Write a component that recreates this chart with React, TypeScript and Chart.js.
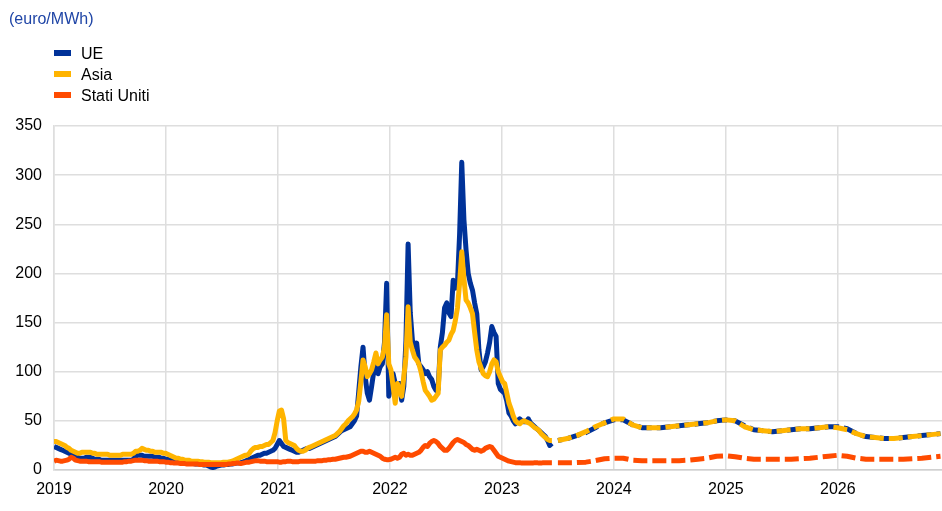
import React, { useEffect, useRef } from "react";
import { Chart, registerables } from "chart.js";

Chart.register(...registerables);

const FONT = 'Arial, "Liberation Sans", Helvetica, sans-serif';

// ---- Data ----
const seriesNames = ["UE", "Asia", "Stati Uniti"];
const seriesColors = ["#003299", "#ffb400", "#ff4b00"];
const yearTicks = [2019, 2020, 2021, 2022, 2023, 2024, 2025, 2026];
const yTicks = [0, 50, 100, 150, 200, 250, 300, 350];

// weekly observations, from first week of 2019 to mid-June 2023
const histStart = 2019;
const histWeeks = 233;

const euHist = [
  24, 23, 22, 21, 20, 19, 18, 17, 16, 15,
  14, 13, 12, 12, 12, 13, 13, 13, 12, 11,
  11, 11, 10, 10, 10, 10, 10, 10, 10, 10,
  10, 10, 10, 10, 10, 10, 10, 11, 14, 15,
  15, 15, 14, 14, 14, 14, 14, 13, 13, 13,
  12, 12, 11, 11, 10, 10, 9, 9, 8.5, 8.5,
  8, 8, 7, 7, 6.5, 6.5, 6, 6, 6, 5.5,
  5, 5, 4, 3, 2.5, 3, 4, 4.5, 5, 5,
  5.5, 5.5, 6, 6, 6.5, 7, 7, 7.5, 8, 9,
  10, 11, 12, 13, 14, 15, 15, 16, 17, 17,
  18, 19, 20, 22, 26, 30, 27, 24, 23, 22,
  21, 20, 19, 18, 18, 19, 20, 21, 22, 22,
  23, 24, 25, 26, 27, 28, 29, 30, 31, 32,
  33, 34, 36, 38, 40, 41, 42, 43, 44, 47,
  50, 55, 80, 105, 125, 95, 78, 71, 85, 100,
  112, 98, 105, 108, 130, 190, 75, 85, 98, 88,
  81, 88, 71, 85, 132, 230, 160, 132, 125, 129,
  108, 105, 102, 98, 100, 95, 92, 85, 81, 82,
  125, 140, 165, 170, 160, 156, 193, 185, 190, 240,
  313, 255, 224, 200, 190, 183, 170, 159, 122, 102,
  105, 110, 119, 130, 146, 140, 136, 88, 82, 80,
  78, 70, 58, 55, 50, 47, 50, 52, 50, 49,
  49, 52, 48, 46, 44, 42, 40, 38, 36, 34,
  30, 25, 27,
];

const asiaHist = [
  29, 29, 28, 27, 26, 25, 23, 22, 20, 19,
  18, 17, 17, 18, 18, 18, 18, 18, 17, 17,
  16, 16, 16, 16, 16, 16, 15, 15, 15, 15,
  15, 15, 16, 16, 16, 16, 16, 17, 19, 19,
  20, 22, 21, 20, 20, 19, 19, 18, 18, 18,
  18, 17, 17, 16, 15, 14, 13, 12, 12, 11,
  11, 10, 10, 10, 9, 9, 9, 9, 8.5, 8.5,
  8, 8, 8, 7.5, 7.5, 7.5, 7.5, 7.5, 7.5, 8,
  8, 8, 8.5, 9, 10, 11, 12, 13, 14, 15,
  15, 17, 20, 22, 23, 23, 24, 24, 25, 26,
  26, 28, 30, 38, 50, 60, 61, 52, 30, 28,
  27, 26, 25, 22, 20, 19, 19, 20, 22, 23,
  24, 25, 26, 27, 28, 29, 30, 31, 32, 33,
  34, 35, 37, 39, 42, 45, 47, 50, 52, 54,
  57, 61, 70, 90, 112, 105, 95, 98, 102, 110,
  119, 108, 112, 115, 125, 158, 108, 102, 85, 68,
  88, 80, 75, 95, 115, 166, 130, 122, 115, 112,
  108, 100, 90, 81, 78, 75, 71, 72, 75, 78,
  122, 125, 127, 130, 132, 138, 142, 152, 165, 190,
  222, 195, 173, 170, 165, 159, 140, 122, 110, 104,
  98, 96, 95, 100, 108, 112, 110, 100, 95, 90,
  88, 78, 68, 62, 55, 50, 48, 47, 49, 50,
  49, 48, 47, 45, 43, 42, 40, 37, 35, 33,
  31, 30, 30,
];

const usHist = [
  9, 10, 9.5, 9, 9, 9.5, 10, 11, 13, 12,
  10, 9.5, 9, 9, 9, 9, 8.5, 8.5, 8.5, 8.5,
  8.5, 8.5, 8, 8, 8, 8, 8, 8, 8, 8,
  8, 8, 8, 8.5, 8.5, 9, 9, 9.5, 10, 10,
  10, 10, 9.5, 9.5, 9, 9, 9, 9, 9, 8.5,
  8.5, 8.5, 8, 8, 7.5, 7.5, 7, 7, 7, 6.5,
  6.5, 6.5, 6, 6, 6, 6, 6, 6, 5.5, 5.5,
  5.5, 5.5, 5.5, 5.5, 5.5, 5.5, 5.5, 5.5, 5.5, 5.5,
  5.5, 6, 6, 6.5, 6.5, 7, 7, 6.5, 7, 7.5,
  8, 8, 8.5, 9, 9.5, 9.5, 9, 9, 9, 8.5,
  8.5, 8.5, 8.5, 8.5, 8.5, 8, 8, 8.5, 8.5, 9,
  9, 8.5, 8.5, 8.5, 8.5, 9, 9, 9, 9, 9,
  9, 9, 9, 9.5, 9.5, 9.5, 10, 10, 10.5, 10.5,
  11, 11, 11.5, 12, 12.5, 13, 13, 13.5, 14, 15,
  16, 17, 18, 19, 19, 18, 18, 19, 18, 17,
  16, 15, 14, 12, 11, 10.5, 10.5, 11, 12, 13,
  12, 13, 16, 17, 15, 16, 15, 15, 16, 17,
  18, 20, 23, 25, 24, 27, 29, 30, 29, 27,
  24, 22, 20, 20, 22, 25, 28, 30, 31, 30,
  29, 28, 26, 25, 23, 21, 20, 21, 20, 19,
  20, 22, 23, 24, 23, 20, 17, 14, 13, 12,
  11, 10, 9, 8.5, 8, 7.5, 7.5, 7.5, 7, 7,
  7, 7, 7, 7, 7.5, 7.5, 7, 7, 7.5, 7.5,
  7.5, 7.5, 7.5,
];

// monthly futures, July 2023 to December 2026
const futStart = 2023.5;
const euFut = [
  30, 32, 35, 38, 43, 48, 51, 51, 46, 43, 43, 43,
  44, 45, 46, 47, 48, 50, 51, 50, 45, 41, 40, 39,
  40, 41, 42, 42, 43, 44, 44, 42, 37, 34, 33, 32,
  32, 33, 34, 35, 36, 37,
];
const asiaFut = [
  30, 32, 35, 39, 44, 48, 52, 52, 46, 43, 43, 43,
  44, 45, 46, 47, 48, 50, 51, 50, 44, 41, 40, 39,
  40, 41, 42, 42, 43, 44, 43, 41, 37, 34, 33, 32,
  32, 33, 34, 35, 36, 37,
];
const usFut = [
  7.5, 7.5, 7.5, 8, 9.5, 11.5, 12, 12, 10, 9.5, 9.5, 9.5,
  9.5, 9.5, 10, 11, 12, 14, 14.5, 13.5, 12, 11, 11, 11,
  11, 11, 11.5, 12, 13, 14, 15, 14, 12, 11, 11, 11,
  11, 11, 11.5, 12, 13, 14,
];

const histDates = Array.from({ length: histWeeks }, (_, i) => histStart + (i * 7) / 365.25);
const futDates = euFut.map((_, i) => futStart + i / 12);

const toPts = (dates: number[], vals: number[]) => dates.map((x, i) => ({ x, y: vals[i] }));

export default function App() {
  const ref = useRef<HTMLCanvasElement | null>(null);

  useEffect(() => {
    if (!ref.current) return;
    const LW = 5;
    const dash = [14, 5];
    const chart = new Chart(ref.current, {
      type: "line",
      data: {
        datasets: [
          { label: "UE", data: toPts(histDates, euHist), borderColor: seriesColors[0], order: 5, borderWidth: LW },
          { label: "Asia", data: toPts(histDates, asiaHist), borderColor: seriesColors[1], order: 3, borderWidth: LW },
          { label: "Stati Uniti", data: toPts(histDates, usHist), borderColor: seriesColors[2], order: 1, borderWidth: LW },
          { label: "UE futures", data: toPts(futDates, euFut), borderColor: seriesColors[0], order: 4, borderWidth: LW, borderDash: dash, borderDashOffset: 9.5 },
          { label: "Asia futures", data: toPts(futDates, asiaFut), borderColor: seriesColors[1], order: 2, borderWidth: LW, borderDash: dash },
          { label: "Stati Uniti futures", data: toPts(futDates, usFut), borderColor: seriesColors[2], order: 0, borderWidth: LW, borderDash: dash },
        ].map((d) => ({ ...d, pointRadius: 0, fill: false, tension: 0, borderCapStyle: "butt" as const, borderJoinStyle: "round" as const })),
      },
      options: {
        animation: false,
        responsive: false,
        devicePixelRatio: 1,
        layout: { padding: { top: 126, right: 0, bottom: 0, left: 0 } },
        plugins: { legend: { display: false }, tooltip: { enabled: false }, title: { display: false } },
        scales: {
          x: {
            type: "linear",
            min: 2019,
            max: 2026.93,
            afterBuildTicks: (axis: any) => {
              axis.ticks = yearTicks.map((v) => ({ value: v }));
            },
            afterFit: (axis: any) => {
              axis.height = 41;
            },
            ticks: {
              autoSkip: false,
              maxRotation: 0,
              padding: 10,
              color: "#000",
              font: { family: FONT, size: 16 },
              callback: (v: any) => String(v),
            },
            grid: { color: "#dedede", lineWidth: 1.5, drawTicks: false },
            border: { display: true, color: "#d0d0d0", width: 1.5 },
          },
          y: {
            type: "linear",
            min: 0,
            max: 350,
            afterBuildTicks: (axis: any) => {
              axis.ticks = yTicks.map((v) => ({ value: v }));
            },
            afterFit: (axis: any) => {
              axis.width = 54;
            },
            ticks: {
              padding: 12,
              color: "#000",
              font: { family: FONT, size: 16 },
              callback: (v: any) => String(v),
            },
            grid: { color: "#dedede", lineWidth: 1.5, drawTicks: false },
            border: { display: true, color: "#dedede", width: 1.5 },
          },
        },
      },
    });
    return () => chart.destroy();
  }, []);

  const textStyle: React.CSSProperties = {
    position: "absolute",
    fontFamily: FONT,
    fontSize: 16,
    lineHeight: "20px",
    whiteSpace: "nowrap",
    color: "#000",
  };

  return (
    <div style={{ position: "fixed", left: 0, top: 0, width: 942, height: 511, background: "#fff" }}>
      <canvas ref={ref} width={942} height={511} style={{ position: "absolute", left: 0, top: 0, width: 942, height: 511 }} />
      <div style={{ ...textStyle, left: 9, top: 9, color: "#1f45a6" }}>(euro/MWh)</div>
      {seriesNames.map((name, i) => (
        <React.Fragment key={name}>
          <div
            style={{
              position: "absolute",
              left: 54,
              top: 50 + i * 21,
              width: 17,
              height: 6,
              background: seriesColors[i],
            }}
          />
          <div style={{ ...textStyle, left: 81, top: 43.5 + i * 21 }}>{name}</div>
        </React.Fragment>
      ))}
    </div>
  );
}
